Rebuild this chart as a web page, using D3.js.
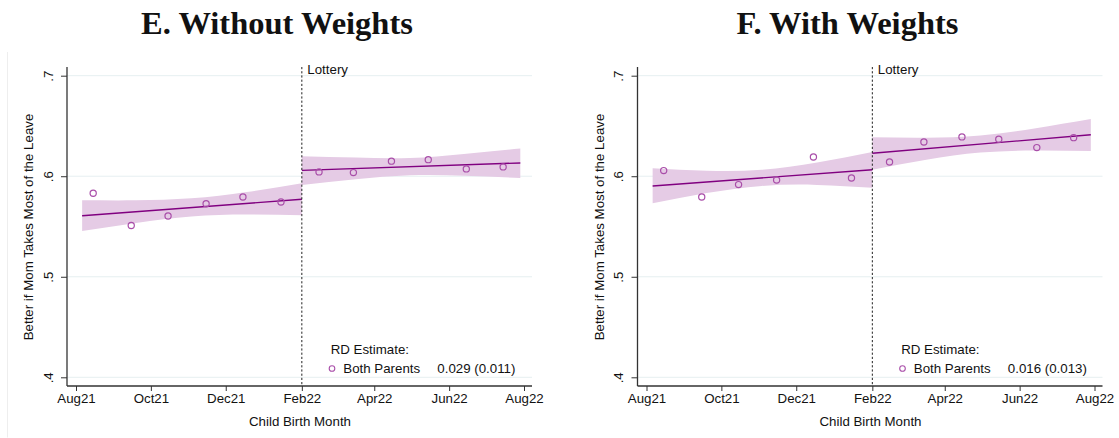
<!DOCTYPE html>
<html>
<head>
<meta charset="utf-8">
<script src="https://cdn.jsdelivr.net/npm/d3@7"></script>
<style>
  body { margin: 0; background: #fff; }
  text { font-family: "Liberation Sans", Arial, sans-serif; }
</style>
</head>
<body>
<svg></svg>
<script>
const width = 1119;
const height = 438;
let svg = d3.select("svg")
    .attr("width", width)
    .attr("height", height);

// ---- data ----
const titles = ["E. Without Weights", "F. With Weights"];
const tickDates = ["2021-08-01", "2021-10-01", "2021-12-01", "2022-02-01", "2022-04-01", "2022-06-01", "2022-08-01"];
const yTicks = [0.4, 0.5, 0.6, 0.7];
const cutoff = "2022-02-01";

// binned means, one per birth month
const binDates = ["2021-08-15", "2021-09-15", "2021-10-15", "2021-11-15", "2021-12-15", "2022-01-15",
                  "2022-02-15", "2022-03-15", "2022-04-15", "2022-05-15", "2022-06-15", "2022-07-15"];
const meanNoW = [0.583, 0.551, 0.5605, 0.5727, 0.5794, 0.5744, 0.6043, 0.6036, 0.615, 0.6165, 0.6073, 0.6093];
const meanW   = [0.6056, 0.5794, 0.5917, 0.5963, 0.6192, 0.5983, 0.6142, 0.6341, 0.6391, 0.6368, 0.6285, 0.6384];

// linear fit and 95% band, before and after the lottery
const preDates  = ["2021-08-06", "2021-09-19", "2021-11-03", "2021-12-18", "2022-02-01"];
const postDates = ["2022-02-01", "2022-03-17", "2022-04-30", "2022-06-13", "2022-07-29"];

const fitPreNoW  = [0.5607, 0.5648, 0.5690, 0.5731, 0.5771];
const loPreNoW   = [0.5455, 0.5536, 0.5600, 0.5619, 0.5611];
const hiPreNoW   = [0.5761, 0.5760, 0.5780, 0.5843, 0.5930];
const fitPostNoW = [0.6058, 0.6078, 0.6096, 0.6114, 0.6132];
const loPostNoW  = [0.5913, 0.5970, 0.6010, 0.6006, 0.5983];
const hiPostNoW  = [0.6199, 0.6186, 0.6182, 0.6222, 0.6275];

const fitPreW  = [0.5903, 0.5944, 0.5984, 0.6025, 0.6065];
const loPreW   = [0.5731, 0.5833, 0.5904, 0.5914, 0.5886];
const hiPreW   = [0.6079, 0.6055, 0.6064, 0.6136, 0.6241];
const fitPostW = [0.6228, 0.6274, 0.6320, 0.6366, 0.6413];
const loPostW  = [0.6065, 0.6165, 0.6235, 0.6257, 0.6251];
const hiPostW  = [0.6387, 0.6383, 0.6405, 0.6475, 0.6569];

const estimates = ["0.029 (0.011)", "0.016 (0.013)"];

// ---- styles ----
const purple = "#800080";
const markerCol = "#a94ea9";
const bandCol = "#e5cbe5";
const gridCol = "#e6eff1";
const axisCol = "#333";
const fs = "13.3px";

const parse = d3.utcParse("%Y-%m-%d");

function drawPanel(dx, title, means, pre, post, est) {
    let g = svg.append("g").attr("transform", `translate(${dx},0)`);

    let x = d3.scaleUtc()
        .domain([parse(tickDates[0]), parse(tickDates[tickDates.length - 1])])
        .range([76, 524]);
    let y = d3.scaleLinear()
        .domain([0.4, 0.7])
        .range([377.3, 75.7]);

    const left = 67, right = 532, top = 67, bottom = 386;

    // title
    g.append("text")
        .attr("x", 277)
        .attr("y", 34.3)
        .attr("text-anchor", "middle")
        .style("font-family", "'Liberation Serif', 'Times New Roman', serif")
        .style("font-weight", "bold")
        .style("font-size", "32.5px")
        .style("fill", "#111")
        .text(title);

    // grid
    g.selectAll(".grid")
        .data(yTicks)
        .enter().append("line")
        .attr("x1", left).attr("x2", right)
        .attr("y1", d => y(d)).attr("y2", d => y(d))
        .style("stroke", gridCol)
        .style("stroke-width", 1);

    // bands + fit lines
    let area = d3.area()
        .x(d => x(d.date))
        .y0(d => y(d.lo))
        .y1(d => y(d.hi))
        .curve(d3.curveNatural);
    let line = d3.line()
        .x(d => x(d.date))
        .y(d => y(d.fit));

    [pre, post].forEach(seg => {
        let rows = seg.dates.map((s, i) => ({date: parse(s), fit: seg.fit[i], lo: seg.lo[i], hi: seg.hi[i]}));
        g.append("path")
            .attr("d", area(rows))
            .style("fill", bandCol)
            .style("stroke", "none");
        g.append("path")
            .attr("d", line([rows[0], rows[rows.length - 1]]))
            .style("fill", "none")
            .style("stroke", purple)
            .style("stroke-width", 1.4);
    });

    // cutoff line
    g.append("line")
        .attr("x1", x(parse(cutoff))).attr("x2", x(parse(cutoff)))
        .attr("y1", top).attr("y2", bottom)
        .style("stroke", "#222")
        .style("stroke-width", 1)
        .style("stroke-dasharray", "2.2,2");
    g.append("text")
        .attr("x", x(parse(cutoff)) + 5.5)
        .attr("y", 74)
        .style("font-size", fs)
        .style("fill", "#111")
        .text("Lottery");

    // binned means
    g.selectAll(".pt")
        .data(binDates.map((s, i) => ({date: parse(s), v: means[i]})))
        .enter().append("circle")
        .attr("cx", d => x(d.date))
        .attr("cy", d => y(d.v))
        .attr("r", 3.1)
        .style("fill", "none")
        .style("stroke", markerCol)
        .style("stroke-width", 1.2);

    // axes
    let xAxis = d3.axisBottom(x)
        .tickValues(tickDates.map(parse))
        .tickFormat(d3.utcFormat("%b%y"))
        .tickSize(5)
        .tickSizeOuter(0);
    let xg = g.append("g")
        .attr("transform", `translate(0,${bottom})`)
        .call(xAxis);
    xg.select(".domain").remove();
    xg.selectAll("line").style("stroke", axisCol);
    xg.selectAll("text")
        .attr("y", 8)
        .attr("dy", "0.71em")
        .style("font-size", fs)
        .style("font-family", "'Liberation Sans', Arial, sans-serif")
        .style("fill", "#111");

    let yAxis = d3.axisLeft(y)
        .tickValues(yTicks)
        .tickFormat(d => d3.format(".1f")(d).replace(/^0/, ""))
        .tickSize(6)
        .tickSizeOuter(0);
    let yg = g.append("g")
        .attr("transform", `translate(${left},0)`)
        .call(yAxis);
    yg.select(".domain").remove();
    yg.selectAll("line").style("stroke", axisCol);
    yg.selectAll("text")
        .attr("x", null).attr("dy", null)
        .attr("text-anchor", "middle")
        .attr("transform", "translate(-14.5,0) rotate(-90)")
        .style("font-size", fs)
        .style("font-family", "'Liberation Sans', Arial, sans-serif")
        .style("fill", "#111");

    g.append("line")
        .attr("x1", left).attr("x2", right)
        .attr("y1", bottom).attr("y2", bottom)
        .style("stroke", axisCol).style("stroke-width", 1.3);
    g.append("line")
        .attr("x1", left).attr("x2", left)
        .attr("y1", top).attr("y2", bottom)
        .style("stroke", axisCol).style("stroke-width", 1.3);

    // axis titles
    g.append("text")
        .attr("x", 300)
        .attr("y", 425.7)
        .attr("text-anchor", "middle")
        .style("font-size", fs)
        .style("fill", "#111")
        .text("Child Birth Month");
    g.append("text")
        .attr("transform", "translate(33.3,227) rotate(-90)")
        .attr("text-anchor", "middle")
        .style("font-size", fs)
        .style("fill", "#111")
        .text("Better if Mom Takes Most of the Leave");

    // legend
    g.append("text")
        .attr("x", 330.7).attr("y", 354)
        .style("font-size", fs).style("fill", "#111")
        .text("RD Estimate:");
    g.append("circle")
        .attr("cx", 332).attr("cy", 368.5).attr("r", 2.8)
        .style("fill", "none").style("stroke", markerCol).style("stroke-width", 1.1);
    g.append("text")
        .attr("x", 343.3).attr("y", 372.7)
        .style("font-size", fs).style("fill", "#111")
        .text("Both Parents");
    g.append("text")
        .attr("x", 437.3).attr("y", 372.7)
        .style("font-size", fs).style("fill", "#111")
        .text(est);
}

// faint outer frame on the left panel
svg.append("line")
    .attr("x1", 7.5).attr("x2", 7.5).attr("y1", 52).attr("y2", 437.5)
    .style("stroke", "#eeeeee");

drawPanel(0, titles[0], meanNoW,
    {dates: preDates, fit: fitPreNoW, lo: loPreNoW, hi: hiPreNoW},
    {dates: postDates, fit: fitPostNoW, lo: loPostNoW, hi: hiPostNoW},
    estimates[0]);

drawPanel(570.5, titles[1], meanW,
    {dates: preDates, fit: fitPreW, lo: loPreW, hi: hiPreW},
    {dates: postDates, fit: fitPostW, lo: loPostW, hi: hiPostW},
    estimates[1]);
</script>
</body>
</html>
